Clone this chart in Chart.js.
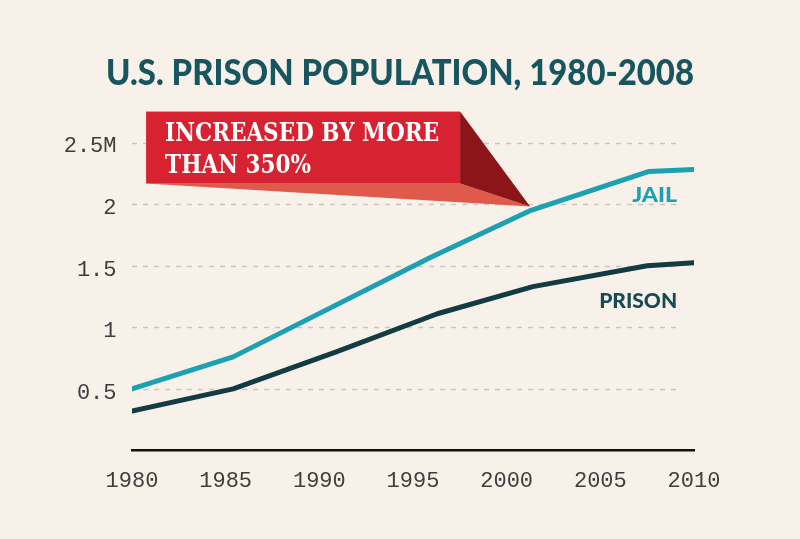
<!DOCTYPE html>
<html>
<head>
<meta charset="utf-8">
<title>U.S. Prison Population, 1980-2008</title>
<script src="https://cdn.jsdelivr.net/npm/chart.js@4.4.1/dist/chart.umd.min.js"></script>
<style>
    html, body { margin: 0; padding: 0; background: #f8f1ea; }
    #wrap { width: 800px; height: 539px; position: relative; }
</style>
</head>
<body>
<div id="wrap"><canvas id="prisonChart"></canvas></div>
<script>
// Data (millions of people)
const jailYears = [1980, 1985.4, 1995.9, 2001.3, 2007.6, 2010];
const jailValues = [0.50, 0.76, 1.565, 1.95, 2.265, 2.28];

const prisonYears = [1980, 1985.4, 1990.9, 1996.3, 2001.4, 2007.5, 2010];
const prisonValues = [0.32, 0.50, 0.80, 1.11, 1.33, 1.50, 1.525];

// Axis ticks
const xTickValues = [1980, 1985, 1990, 1995, 2000, 2005, 2010];
const xTickLabels = ['1980', '1985', '1990', '1995', '2000', '2005', '2010'];
const yTickValues = [0, 0.5, 1, 1.5, 2, 2.5];
const yTickLabels = ['', '0.5', '1', '1.5', '2', '2.5M'];

// Texts
const titleText = 'U.S. PRISON POPULATION, 1980-2008';
const calloutLines = ['INCREASED BY MORE', 'THAN 350%'];
const seriesNames = ['JAIL', 'PRISON'];

const TEAL = '#1ca0b2';
const DARK = '#133c42';

// draw text squeezed/stretched to a given width
function fitText(ctx, text, x, y, width, align) {
    const w = ctx.measureText(text).width;
    const sx = width / w;
    ctx.save();
    ctx.translate(x, y);
    ctx.scale(sx, 1);
    ctx.textAlign = align || 'left';
    ctx.fillText(text, 0, 0);
    ctx.restore();
    return sx;
}

// Dashed horizontal guide lines (stop short of the last year)
const guideLines = {
    id: 'guideLines',
    beforeDatasetsDraw(chart) {
        const { ctx, chartArea, scales } = chart;
        ctx.save();
        ctx.strokeStyle = '#c9c6c2';
        ctx.lineWidth = 1.5;
        ctx.setLineDash([5, 6]);
        yTickValues.forEach(v => {
            if (v === 0) return;
            const y = Math.round(scales.y.getPixelForValue(v)) + 0.5;
            ctx.beginPath();
            ctx.moveTo(chartArea.left, y);
            ctx.lineTo(chartArea.right - 18, y);
            ctx.stroke();
        });
        ctx.restore();
    }
};

// Title, series names and the red callout
const decorations = {
    id: 'decorations',
    afterDatasetsDraw(chart) {
        const { ctx, scales } = chart;
        ctx.save();
        ctx.textBaseline = 'alphabetic';

        // title
        ctx.fillStyle = '#17555f';
        ctx.font = '900 36px Lato';
        fitText(ctx, titleText, 400, 85, 588, 'center');

        // series labels
        ctx.font = '900 21px Lato';
        ctx.fillStyle = TEAL;
        fitText(ctx, seriesNames[0], scales.x.getPixelForValue(2009.1), scales.y.getPixelForValue(2.015), 45, 'right');
        ctx.fillStyle = '#174b53';
        fitText(ctx, seriesNames[1], scales.x.getPixelForValue(2009.1), scales.y.getPixelForValue(1.16), 78, 'right');

        // callout pointing at the jail line around 2001
        const tx = scales.x.getPixelForValue(2001.25);
        const ty = scales.y.getPixelForValue(1.98);
        const left = tx - 384, right = tx - 70, top = ty - 95, bottom = ty - 23;

        ctx.fillStyle = '#e05a4c';
        ctx.beginPath();
        ctx.moveTo(left, bottom);
        ctx.lineTo(right, bottom);
        ctx.lineTo(tx, ty);
        ctx.closePath();
        ctx.fill();

        ctx.fillStyle = '#8b1519';
        ctx.beginPath();
        ctx.moveTo(right, top);
        ctx.lineTo(tx, ty);
        ctx.lineTo(right, bottom);
        ctx.closePath();
        ctx.fill();

        ctx.fillStyle = '#d72331';
        ctx.fillRect(left, top, right - left, bottom - top);

        ctx.fillStyle = '#ffffff';
        ctx.font = 'bold 26px "DejaVu Serif"';
        const sx = fitText(ctx, calloutLines[0], left + 19, top + 29, 274, 'left');
        const w2 = ctx.measureText(calloutLines[1]).width * sx;
        fitText(ctx, calloutLines[1], left + 19, top + 61, w2, 'left');

        ctx.restore();
    }
};

const ctx = document.getElementById('prisonChart').getContext('2d');
const prisonChart = new Chart(ctx, {
    type: 'line',
    data: {
        datasets: [
            {
                label: 'Jail',
                data: jailYears.map((yr, i) => ({ x: yr, y: jailValues[i] })),
                borderColor: TEAL,
                borderWidth: 5,
                borderCapStyle: 'round',
                borderJoinStyle: 'round',
                pointRadius: 0,
                tension: 0,
            },
            {
                label: 'Prison',
                data: prisonYears.map((yr, i) => ({ x: yr, y: prisonValues[i] })),
                borderColor: DARK,
                borderWidth: 5,
                borderCapStyle: 'round',
                borderJoinStyle: 'round',
                pointRadius: 0,
                tension: 0,
            },
        ],
    },
    options: {
        responsive: true,
        maintainAspectRatio: false,
        animation: false,
        layout: {
            padding: { top: 142.5, right: 106, bottom: 0, left: 0 },
        },
        plugins: {
            legend: { display: false },
            tooltip: { enabled: false },
            title: { display: false },
        },
        scales: {
            x: {
                type: 'linear',
                min: 1980,
                max: 2010,
                afterBuildTicks: scale => {
                    scale.ticks = xTickValues.map(v => ({ value: v }));
                },
                afterFit: scale => { scale.height = 88.5; },
                grid: { display: false, drawTicks: false },
                border: { display: true, color: '#111111', width: 2.5 },
                ticks: {
                    padding: 17,
                    color: '#3d3d3d',
                    font: { family: '"Liberation Mono"', size: 22 },
                    callback: (value, index) => xTickLabels[index],
                },
            },
            y: {
                type: 'linear',
                min: 0,
                max: 2.5,
                afterBuildTicks: scale => {
                    scale.ticks = yTickValues.map(v => ({ value: v }));
                },
                afterFit: scale => { scale.width = 132; },
                grid: { display: false, drawTicks: false },
                border: { display: false },
                ticks: {
                    padding: 15.5,
                    labelOffset: 4,
                    color: '#3d3d3d',
                    font: { family: '"Liberation Mono"', size: 22 },
                    callback: (value, index) => yTickLabels[index],
                },
            },
        },
    },
    plugins: [guideLines, decorations],
});
</script>
</body>
</html>
